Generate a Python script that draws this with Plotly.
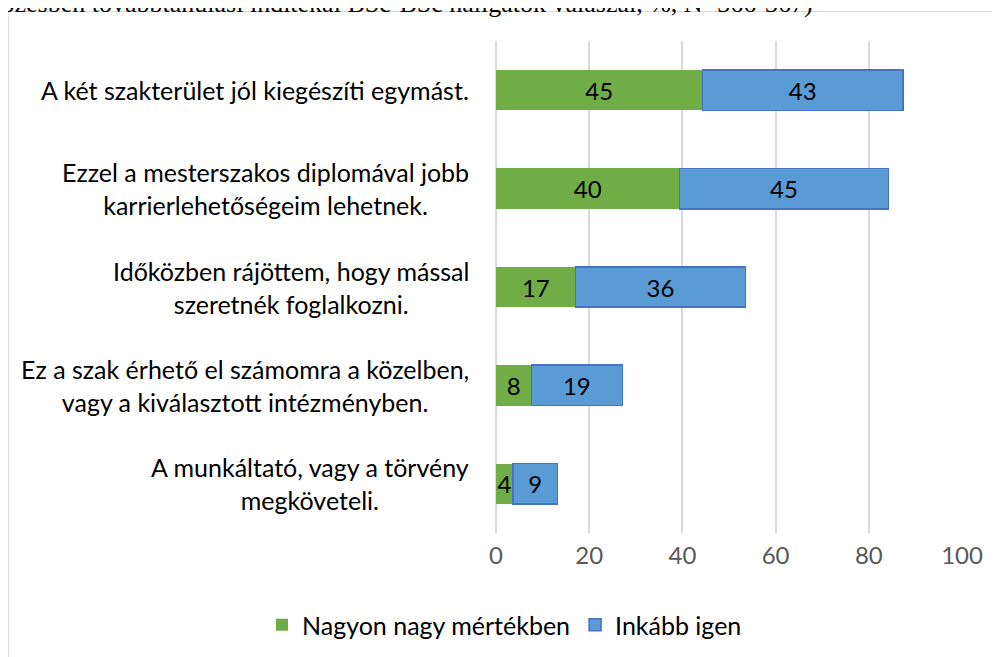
import plotly.graph_objects as go

categories = [
    "A két szakterület jól kiegészíti egymást.",
    "Ezzel a mesterszakos diplomával jobb<br>karrierlehetőségeim lehetnek.",
    "Időközben rájöttem, hogy mással<br>szeretnék foglalkozni.",
    "Ez a szak érhető el számomra a közelben,<br>vagy a kiválasztott intézményben.",
    "A munkáltató, vagy a törvény<br>megköveteli.",
]
series_names = ["Nagyon nagy mértékben", "Inkább igen"]
green_values = [44.3, 39.4, 17.1, 7.6, 3.6]
blue_values = [43.0, 44.8, 36.4, 19.5, 9.6]
green_labels = ["45", "40", "17", "8", "4"]
blue_labels = ["43", "45", "36", "19", "9"]
tick_values = [0, 20, 40, 60, 80, 100]
caption = "képzésben továbbtanulási indítékai BSc-BSc hallgatók válaszai, %, N=366-367)"

FONT = "Lato"
OFF = 8  # page body margin
W, H = 1000 - OFF, 657 - OFF
L, R, T, B = 488, 38, 33, 124

fig = go.Figure()
fig.add_trace(go.Bar(
    y=categories, x=green_values, name=series_names[0], orientation="h",
    marker=dict(color="#70AD47", line=dict(color="#70AD47", width=0)),
    text=green_labels, textposition="inside", insidetextanchor="middle",
    textfont=dict(family=FONT, size=24, color="#000000"), textangle=0,
))
fig.add_trace(go.Bar(
    y=categories, x=blue_values, name=series_names[1], orientation="h",
    marker=dict(color="#5B9BD5", line=dict(color="#4472C4", width=1.5)),
    text=blue_labels, textposition="inside", insidetextanchor="middle",
    textfont=dict(family=FONT, size=24, color="#000000"), textangle=0,
))

for c in categories:
    fig.add_annotation(
        x=0, xref="paper", y=c, yref="y", xanchor="right", xshift=-25,
        text=c, showarrow=False, align="center",
        font=dict(family=FONT, size=25, color="#000000"),
    )

pw = W - L - R
ph = H - T - B
def px2x(px):
    return (px - OFF - L) / pw
def py2y(py):
    return (H - B - (py - OFF)) / ph

fig.add_shape(type="rect", xref="paper", yref="paper",
              x0=px2x(8.5), x1=px2x(1020), y0=py2y(690), y1=py2y(11.5),
              line=dict(color="#D9D9D9", width=1), fillcolor="rgba(0,0,0,0)", layer="below")

fig.add_annotation(
    x=px2x(815), xref="paper", y=py2y(20), yref="paper", xanchor="right", yanchor="bottom",
    text=caption, showarrow=False, font=dict(family="Liberation Serif", size=26, color="#000000"),
)

fig.update_layout(
    width=W, height=H,
    margin=dict(l=L, r=R, t=T, b=B, autoexpand=False),
    barmode="stack", bargap=0.59,
    plot_bgcolor="white", paper_bgcolor="white",
    uniformtext=dict(minsize=24, mode="show"),
    showlegend=True,
    legend=dict(orientation="h", x=px2x(262), xanchor="left", y=py2y(625), yanchor="middle",
                font=dict(family=FONT, size=25, color="#000000"), traceorder="normal",
                itemwidth=30),
    xaxis=dict(range=[0, 100], tickvals=tick_values, showgrid=True, gridcolor="#D9D9D9", gridwidth=1.5,
               zeroline=True, zerolinecolor="#D9D9D9", zerolinewidth=1.5, showline=False,
               tickfont=dict(family=FONT, size=24, color="#595959"), ticks="", ticklen=0,
               ticklabelstandoff=6),
    yaxis=dict(autorange="reversed", showticklabels=False, showgrid=False, ticks=""),
)

fig.write_html("out.html")
